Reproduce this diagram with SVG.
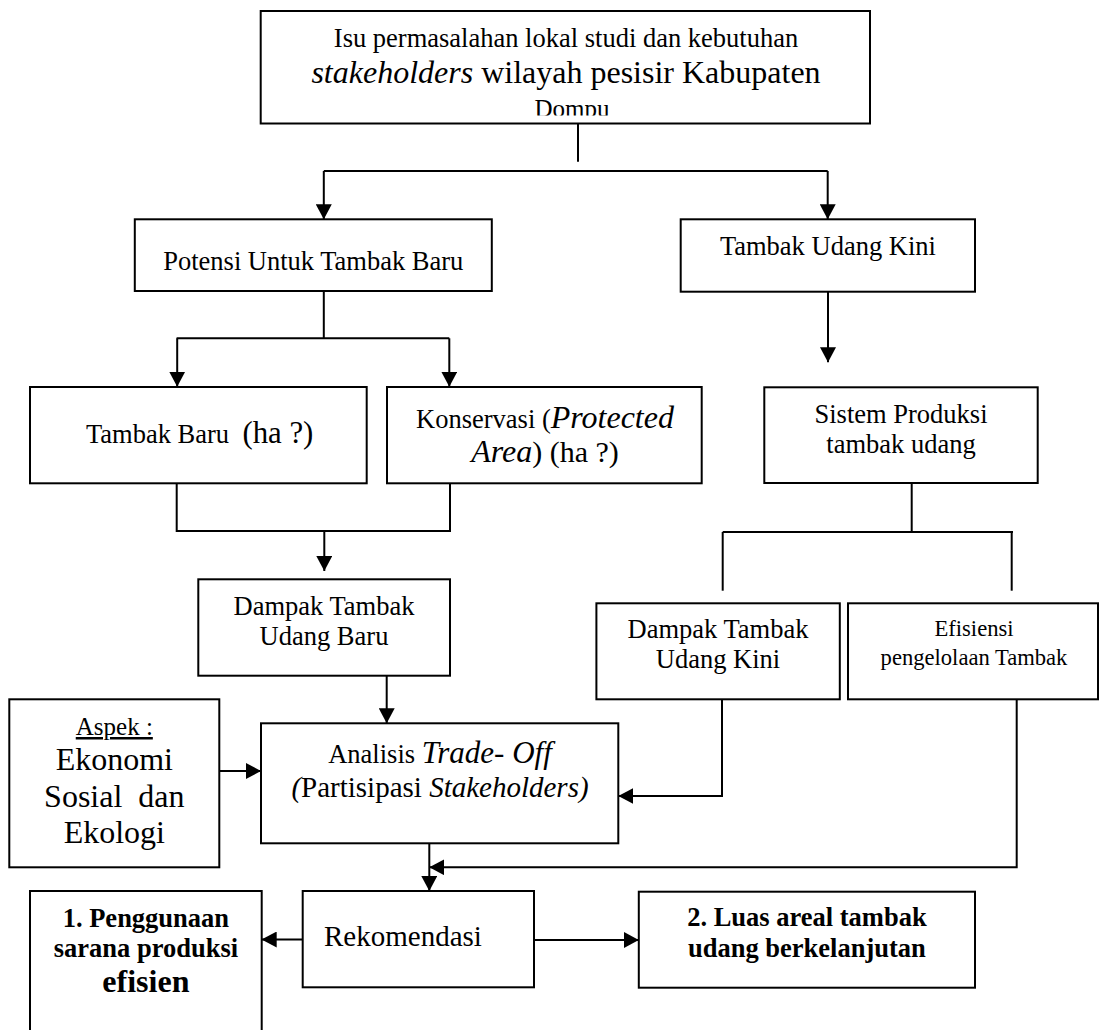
<svg xmlns="http://www.w3.org/2000/svg" width="1100" height="1030" viewBox="0 0 1100 1030">
  <style>
    .box { fill: #ffffff; stroke: #000000; stroke-width: 2; }
    .wire { fill: none; stroke: #000000; stroke-width: 2; }
    .arrow { fill: none; stroke: #000000; stroke-width: 2; marker-end: url(#head); }
    text { font-family: "Liberation Serif", "Times New Roman", serif; fill: #000000; }
    .t { font-size: 26.5px; }
    .c { text-anchor: middle; }
    .i { font-style: italic; }
    .b { font-weight: bold; }
  </style>
  <defs>
    <marker id="head" markerUnits="userSpaceOnUse" markerWidth="15" markerHeight="16" refX="15" refY="8" orient="auto">
      <path d="M0,0 L15,8 L0,16 Z" fill="#000000"/>
    </marker>
    <!-- the last line of the top box is cut off by its frame -->
    <clipPath id="topClip">
      <rect x="262" y="12" width="606" height="103.5"/>
    </clipPath>
  </defs>

  <rect x="0" y="0" width="1100" height="1030" fill="#ffffff"/>

  <!-- connectors -->
  <g id="connectors">
    <path class="wire" d="M578,124 V161.7"/>
    <path class="wire" d="M323.8,171 H827.7"/>
    <path class="arrow" d="M323.8,171 V219.3"/>
    <path class="arrow" d="M827.7,171 V219.3"/>

    <path class="wire" d="M323.8,291 V338.3"/>
    <path class="wire" d="M176.6,338.3 H449.3"/>
    <path class="arrow" d="M177.2,338.3 V386.7"/>
    <path class="arrow" d="M449.3,338.3 V386.7"/>

    <path class="arrow" d="M828,291.7 V362.3"/>

    <path class="wire" d="M176.7,483.3 V531 H450 V483.3"/>
    <path class="arrow" d="M324.3,531 V571"/>
    <path class="arrow" d="M386.7,675.7 V723.3"/>

    <path class="wire" d="M911.7,483 V532"/>
    <path class="wire" d="M722.7,532 H1013"/>
    <path class="wire" d="M722.7,532 V590.7"/>
    <path class="wire" d="M1011.7,532 V590.7"/>

    <path class="arrow" d="M722,699.3 V796 H618.3"/>
    <path class="arrow" d="M1016.7,699.3 V867.3 H429.3"/>
    <path class="arrow" d="M429.3,843.3 V891"/>
    <path class="arrow" d="M219.3,771 H261"/>
    <path class="arrow" d="M302.7,939.5 H261.7"/>
    <path class="arrow" d="M534,940 H638.8"/>
  </g>

  <g id="isu">
    <rect class="box" x="260.7" y="11" width="609.3" height="112.5"/>
    <g clip-path="url(#topClip)">
      <text class="t c" x="566" y="46.7">Isu permasalahan lokal studi dan kebutuhan</text>
      <text class="c" x="566" y="83.3" font-size="32"><tspan class="i">stakeholders</tspan> wilayah pesisir Kabupaten</text>
      <text class="c" x="572" y="117" font-size="25">Dompu</text>
    </g>
  </g>

  <g id="potensi">
    <rect class="box" x="134.8" y="219.3" width="357" height="71.7"/>
    <text class="t c" x="313.3" y="270">Potensi Untuk Tambak Baru</text>
  </g>

  <g id="tambak-udang-kini">
    <rect class="box" x="680.7" y="219.3" width="294.3" height="72.4"/>
    <text class="t c" x="827.9" y="255">Tambak Udang Kini</text>
  </g>

  <g id="tambak-baru">
    <rect class="box" x="30" y="387" width="336.7" height="96.3"/>
    <text x="86" y="443.3" xml:space="preserve"><tspan font-size="26.5">Tambak Baru  </tspan><tspan font-size="30.8">(ha ?)</tspan></text>
  </g>

  <g id="konservasi">
    <rect class="box" x="387" y="387" width="314.7" height="96.3"/>
    <text class="c" x="545" y="428.3"><tspan font-size="26.5">Konservasi (</tspan><tspan class="i" font-size="32">Protected</tspan></text>
    <text class="c" x="545" y="461.7"><tspan class="i" font-size="32">Area</tspan><tspan font-size="30">) (ha ?)</tspan></text>
  </g>

  <g id="sistem-produksi">
    <rect class="box" x="764.3" y="387.3" width="273.4" height="95.7"/>
    <text class="t c" x="901" y="423">Sistem Produksi</text>
    <text class="t c" x="901" y="453">tambak udang</text>
  </g>

  <g id="dampak-baru">
    <rect class="box" x="198.3" y="579.3" width="251.7" height="96.4"/>
    <text class="t c" x="324" y="615">Dampak Tambak</text>
    <text class="t c" x="324" y="645">Udang Baru</text>
  </g>

  <g id="dampak-kini">
    <rect class="box" x="596.4" y="603.3" width="243.4" height="96"/>
    <text class="t c" x="718" y="638">Dampak Tambak</text>
    <text class="t c" x="718" y="668">Udang Kini</text>
  </g>

  <g id="efisiensi">
    <rect class="box" x="848" y="603.3" width="250" height="96"/>
    <text class="c" x="974" y="636" font-size="22.6">Efisiensi</text>
    <text class="c" x="974" y="665" font-size="22.6">pengelolaan Tambak</text>
  </g>

  <g id="aspek">
    <rect class="box" x="9.3" y="699.3" width="210" height="168"/>
    <text class="c" x="114.3" y="735" font-size="25" text-decoration="underline">Aspek :</text>
    <text class="c" x="114.3" y="770" font-size="32">Ekonomi</text>
    <text class="c" x="114.3" y="806.7" font-size="32" xml:space="preserve">Sosial  dan</text>
    <text class="c" x="114.3" y="843" font-size="32">Ekologi</text>
  </g>

  <g id="analisis">
    <rect class="box" x="261" y="723.3" width="357.3" height="120"/>
    <text class="c" x="440" y="763.3"><tspan font-size="26.5">Analisis </tspan><tspan class="i" font-size="31">Trade- Off</tspan></text>
    <text class="c" x="440" y="796.7" font-size="29"><tspan class="i">(</tspan>Partisipasi <tspan class="i">Stakeholders)</tspan></text>
  </g>

  <g id="rekomendasi">
    <rect class="box" x="302.7" y="891" width="231.3" height="96.3"/>
    <text x="324" y="946" font-size="29">Rekomendasi</text>
  </g>

  <g id="hasil-1">
    <rect class="box" x="30" y="891" width="231.7" height="160"/>
    <text class="t c b" x="145.9" y="926.7">1. Penggunaan</text>
    <text class="t c b" x="145.9" y="956.7">sarana produksi</text>
    <text class="c b" x="145.9" y="991.7" font-size="32">efisien</text>
  </g>

  <g id="hasil-2">
    <rect class="box" x="638.8" y="891.7" width="336.2" height="96"/>
    <text class="t c b" x="806.9" y="925.7">2. Luas areal tambak</text>
    <text class="t c b" x="806.9" y="956.7">udang berkelanjutan</text>
  </g>
</svg>
